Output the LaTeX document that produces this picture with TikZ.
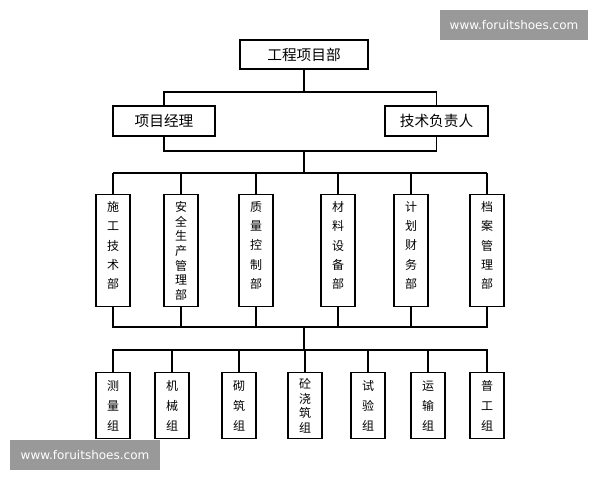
\documentclass[tikz,border=0pt]{standalone}
\usepackage{fontspec}
\setmainfont{Liberation Serif}
\newfontfamily\cjk{Noto Sans CJK SC}
\newfontfamily\wm{DejaVu Sans}
\begin{document}
\begin{tikzpicture}[x=0.75pt,y=-0.75pt,
  box/.style={draw,line width=1.1pt,inner sep=0pt,font=\cjk\fontsize{11}{13}\selectfont},
  vbox/.style={draw,line width=1.1pt,minimum width=34*0.75pt,inner sep=0pt},
  vtxt/.style={align=center,inner sep=0pt,font=\cjk\fontsize{9}{#1}\selectfont},
  ln/.style={line width=1.1pt},
  wmk/.style={fill=black!40,text=white,inner sep=0pt,font=\wm\fontsize{9}{11}\selectfont}]
\useasboundingbox (0,0) rectangle (600,480);
\node[box,minimum width=128*0.75pt,minimum height=29*0.75pt] (top) at (304,54.5) {工程项目部};
\node[box,minimum width=102*0.75pt,minimum height=30*0.75pt] (pm) at (164,121) {项目经理};
\node[box,minimum width=103*0.75pt,minimum height=30*0.75pt] (te) at (436.5,121) {技术负责人};
\coordinate (c1) at (304,92);
\coordinate (c2) at (304,151);
\coordinate (c3) at (304,173);
\draw[ln] (top.south) -- (c1);
\draw[ln] (pm.north) |- (c1) -| (te.north);
\draw[ln] (pm.south) |- (c2) -| (te.south);
\draw[ln] (c2) -- (c3);
% departments
\foreach \i/\x/\s/\t in {1/113/14.5/{施\\工\\技\\术\\部},2/181/11/{安\\全\\生\\产\\管\\理\\部},3/256/14.5/{质\\量\\控\\制\\部},4/338/14.5/{材\\料\\设\\备\\部},5/411/14.5/{计\\划\\财\\务\\部},6/487/14.5/{档\\案\\管\\理\\部}}{
  \node[vbox,minimum height=112*0.75pt,anchor=north] (d\i) at (\x,194) {};
  \node[vtxt=\s,anchor=north] (dt\i) at (\x,201) {\t};
}
\coordinate (b1) at (113,173);
\coordinate (b2) at (487,173);
\draw[ln] (b1) -- (b2);
\foreach \i in {1,...,6}{\draw[ln] (d\i.north|-c3) -- (d\i.north);}
\coordinate (e1) at (304,327);
\coordinate (e2) at (304,350);
\draw[ln] (d1.south) |- (e1) -| (d6.south);
\foreach \i in {2,...,5}{\draw[ln] (d\i.south) -- (d\i.south|-e1);}
\draw[ln] (e1) -- (e2);
% groups
\foreach \i/\x/\s/\t in {1/113/15/{测\\量\\组},2/172/15/{机\\械\\组},3/239/15/{砌\\筑\\组},4/305/11/{砼\\浇\\筑\\组},5/368/15/{试\\验\\组},6/428/15/{运\\输\\组},7/487/15/{普\\工\\组}}{
  \node[vbox,minimum height=66*0.75pt,anchor=north] (g\i) at (\x,372) {};
  \node[vtxt=\s] (gt\i) at (g\i) {\t};
}
\draw[ln] (g1.north) |- (e2) -| (g7.north);
\foreach \i in {2,...,6}{\draw[ln] (g\i.north) -- (g\i.north|-e2);}
\node[wmk,minimum width=148*0.75pt,minimum height=30*0.75pt] (w1) at (514,25) {www.foruitshoes.com};
\node[wmk,minimum width=150*0.75pt,minimum height=30*0.75pt] (w2) at (85,455) {www.foruitshoes.com};
\end{tikzpicture}
\end{document}
